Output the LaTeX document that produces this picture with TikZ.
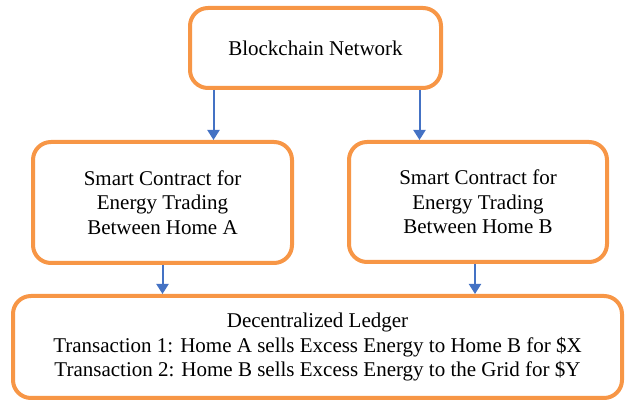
\documentclass[tikz,border=0pt]{standalone}
\usepackage{fontspec}
\setmainfont{Liberation Serif}
\usetikzlibrary{arrows.meta}
\definecolor{boxorange}{HTML}{F79646}
\definecolor{arrowblue}{HTML}{4472C4}
\tikzset{
  box/.style={draw=boxorange, line width=4pt, rounded corners=18pt, fill=white,
    align=center, font=\fontsize{21}{24.5}\selectfont, inner sep=0pt},
  flow/.style={draw=arrowblue, line width=2pt, -{Triangle[length=10pt,width=12pt]}}
}
\begin{document}
\begin{tikzpicture}[x=1pt,y=1pt]
\useasboundingbox (0,0) rectangle (628,406);
\node[box, minimum width=251pt, minimum height=80pt] (bc) at (315.5,358) {Blockchain Network};
\node[box, minimum width=259pt, minimum height=121pt] (sa) at (162.5,203.5) {Smart Contract for\\Energy Trading\\Between Home A};
\node[box, minimum width=258pt, minimum height=120pt] (sb) at (478,204) {Smart Contract for\\Energy Trading\\Between Home B};
\node[box, minimum width=609pt, minimum height=102pt] (dl) at (317.5,59) {Decentralized Ledger\\Transaction 1: Home A sells Excess Energy to Home B for \$X\\Transaction 2: Home B sells Excess Energy to the Grid for \$Y};
\draw[flow] (bc.south -| sa.north) ++(51,0) coordinate (a1) -- (a1 |- sa.north);
\draw[flow] (bc.south) ++(104,0) coordinate (b1) -- (b1 |- sb.north);
\draw[flow] (sa.south) ++(0,0) coordinate (a2) -- (a2 |- dl.north);
\draw[flow] (sb.south) ++(-3,0) coordinate (b2) -- (b2 |- dl.north);
\end{tikzpicture}
\end{document}
